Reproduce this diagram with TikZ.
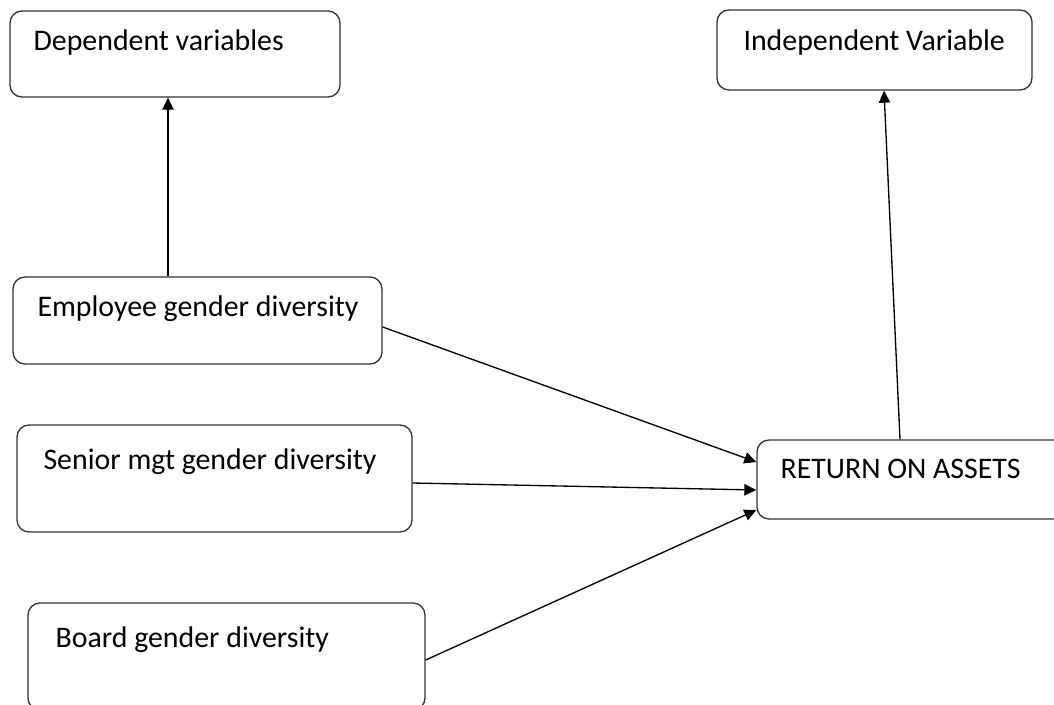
\documentclass[tikz,border=0pt]{standalone}
\usepackage{fontspec}
\setmainfont{Carlito}
\usetikzlibrary{arrows.meta,fit}

\begin{document}
\begin{tikzpicture}[x=0.75pt, y=-0.75pt, thick,
    box/.style = {draw=black!80, line width=1pt, rounded corners=9pt, inner sep=0pt},
    lbl/.style = {anchor=base west, inner sep=0pt, font=\fontsize{22.4}{26}\selectfont},
    arr/.style = {draw=black, line width=1pt, -{Triangle[length=9pt, width=8.5pt]}}]
    \clip (0,0) rectangle (1054,704);
    \useasboundingbox (0,0) rectangle (1054,704);
    % boxes
    \node[box, fit={(10,11) (340,97)}]   (dep) {};
    \node[box, fit={(717,10) (1032,90)}] (ind) {};
    \node[box, fit={(13,277) (382,364)}] (emp) {};
    \node[box, fit={(17,425) (412,532)}] (sen) {};
    \node[box, fit={(28,603) (425,710)}] (brd) {};
    \node[box, fit={(757,440) (1110,519)}] (roa) {};
    % texts
    \node[lbl] (deptxt) at (33,50)  {Dependent variables};
    \node[lbl] (indtxt) at (743,50) {Independent Variable};
    \node[lbl] (emptxt) at (37,316) {Employee gender diversity};
    \node[lbl] (sentxt) at (43,469) {Senior mgt gender diversity};
    \node[lbl] (brdtxt) at (55,647) {Board gender diversity};
    \node[lbl] (roatxt) at (780,478) {RETURN ON ASSETS};
    % arrows
    \draw[arr] (emp.north -| 168,0) -- (dep.south -| 168,0);
    \draw[arr] (roa.north -| 900,0) -- (ind.south -| 884,0);
    \draw[arr] (emp.east |- 0,327) -- (roa.west |- 0,462);
    \draw[arr] (sen.east |- 0,483) -- (roa.west |- 0,490);
    \draw[arr] (brd.east |- 0,660) -- (roa.west |- 0,510);
\end{tikzpicture}
\end{document}
